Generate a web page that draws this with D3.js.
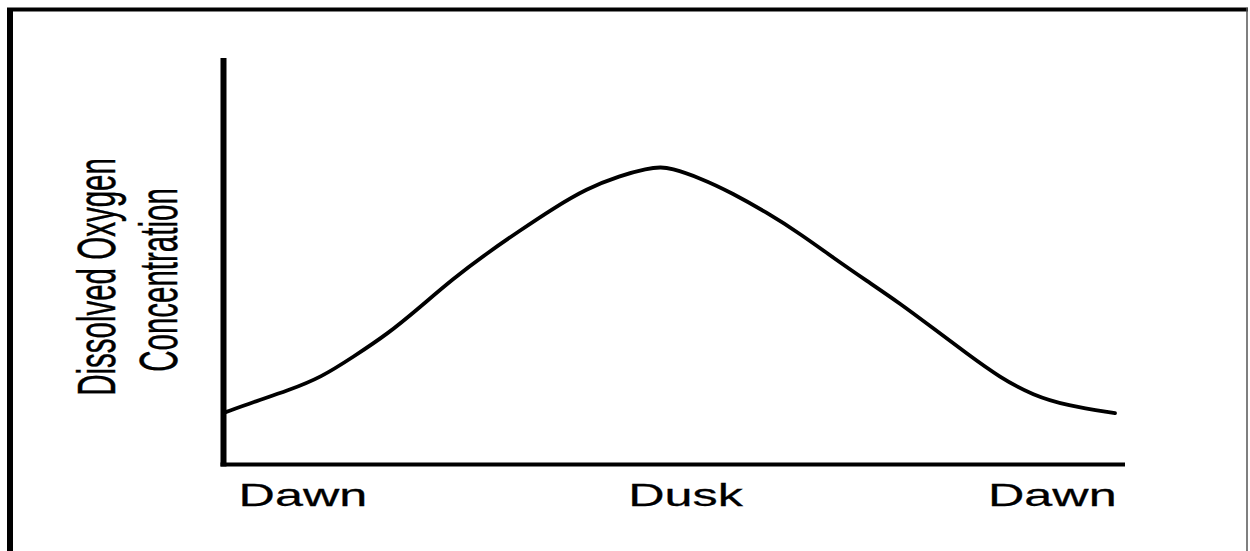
<!DOCTYPE html>
<html>
<head>
<meta charset="utf-8">
<script src="https://cdn.jsdelivr.net/npm/d3@7"></script>
<style>
    html, body { margin: 0; padding: 0; background: #fff; }
    svg { display: block; }
    .label { font-family: "Liberation Sans", Arial, sans-serif; fill: #000; stroke: #000; stroke-width: 0.25; }
</style>
</head>
<body>
<svg id="chart" width="1250" height="551"></svg>
<script>
// hours after dawn
const hours = [0, 0.75, 1.7, 2.6, 3.45, 4.4, 5.25, 6.15, 7.05, 7.95, 8.85, 9.75, 10.65, 11.4, 11.75,
    12.0, 12.8, 13.7, 14.6, 15.5, 16.4, 17.3, 18.2, 19.1, 20.0, 20.9, 21.8, 22.7, 24.0];
// dissolved oxygen, relative units (0 = x axis)
const oxygen = [12.9, 15.4, 18.3, 21.6, 26.6, 32.4, 38.9, 46.0, 52.2, 57.9, 63.4, 68.3, 71.5, 73.3, 73.6,
    73.4, 71.0, 67.1, 62.4, 57.2, 51.2, 45.5, 39.9, 33.7, 27.5, 21.5, 17.1, 14.6, 12.7];

const tickLabels = ['Dawn', 'Dusk', 'Dawn'];
const tickHours = [2.1, 12.42, 22.31];
const yLabelLines = ['Dissolved Oxygen', 'Concentration'];

const svg = d3.select('#chart');

let x = d3.scaleLinear()
    .domain([0, 24])
    .range([225, 1115]);

let y = d3.scaleLinear()
    .domain([0, 100])
    .range([464.5, 60.5]);

// picture frame (left/top thick, right thin)
svg.append('line')
    .attr('x1', 10).attr('x2', 10)
    .attr('y1', 8).attr('y2', 551)
    .attr('stroke', '#000').attr('stroke-width', 6);
svg.append('line')
    .attr('x1', 7).attr('x2', 1248)
    .attr('y1', 9.5).attr('y2', 9.5)
    .attr('stroke', '#000').attr('stroke-width', 4);
svg.append('line')
    .attr('x1', 1247).attr('x2', 1247)
    .attr('y1', 8).attr('y2', 551)
    .attr('stroke', '#555').attr('stroke-width', 1.5);

// axes, drawn as plain lines like the original sketch
svg.append('line')
    .attr('x1', x(0) - 1.5).attr('x2', x(0) - 1.5)
    .attr('y1', y(100) - 2.5).attr('y2', y(0) + 2)
    .attr('stroke', '#000').attr('stroke-width', 6);

svg.append('line')
    .attr('x1', x(0) - 4.5).attr('x2', x(24) + 10)
    .attr('y1', y(0)).attr('y2', y(0))
    .attr('stroke', '#000').attr('stroke-width', 4);

let line = d3.line()
    .x(d => x(d[0]))
    .y(d => y(d[1]))
    .curve(d3.curveBasis);

svg.append('path')
    .datum(d3.zip(hours, oxygen))
    .attr('d', line)
    .attr('fill', 'none')
    .attr('stroke', '#000')
    .attr('stroke-width', 3.8)
    .attr('stroke-linecap', 'round');

// tick labels are stretched sideways in the source image
svg.selectAll('text.tick')
    .data(d3.zip(tickLabels, tickHours))
    .join('text')
    .attr('class', 'label tick')
    .attr('transform', d => `translate(${x(d[1])},505.5) scale(1.65,1)`)
    .attr('text-anchor', 'middle')
    .attr('font-size', 30.5)
    .text(d => d[0]);

svg.selectAll('text.ylabel')
    .data(yLabelLines)
    .join('text')
    .attr('class', 'label ylabel')
    .attr('transform', (d, i) => `translate(${115 + i * 62},${277 + i * 3}) scale(1.85,1) rotate(-90)`)
    .attr('text-anchor', 'middle')
    .attr('font-size', 29.5)
    .text(d => d);
</script>
</body>
</html>
